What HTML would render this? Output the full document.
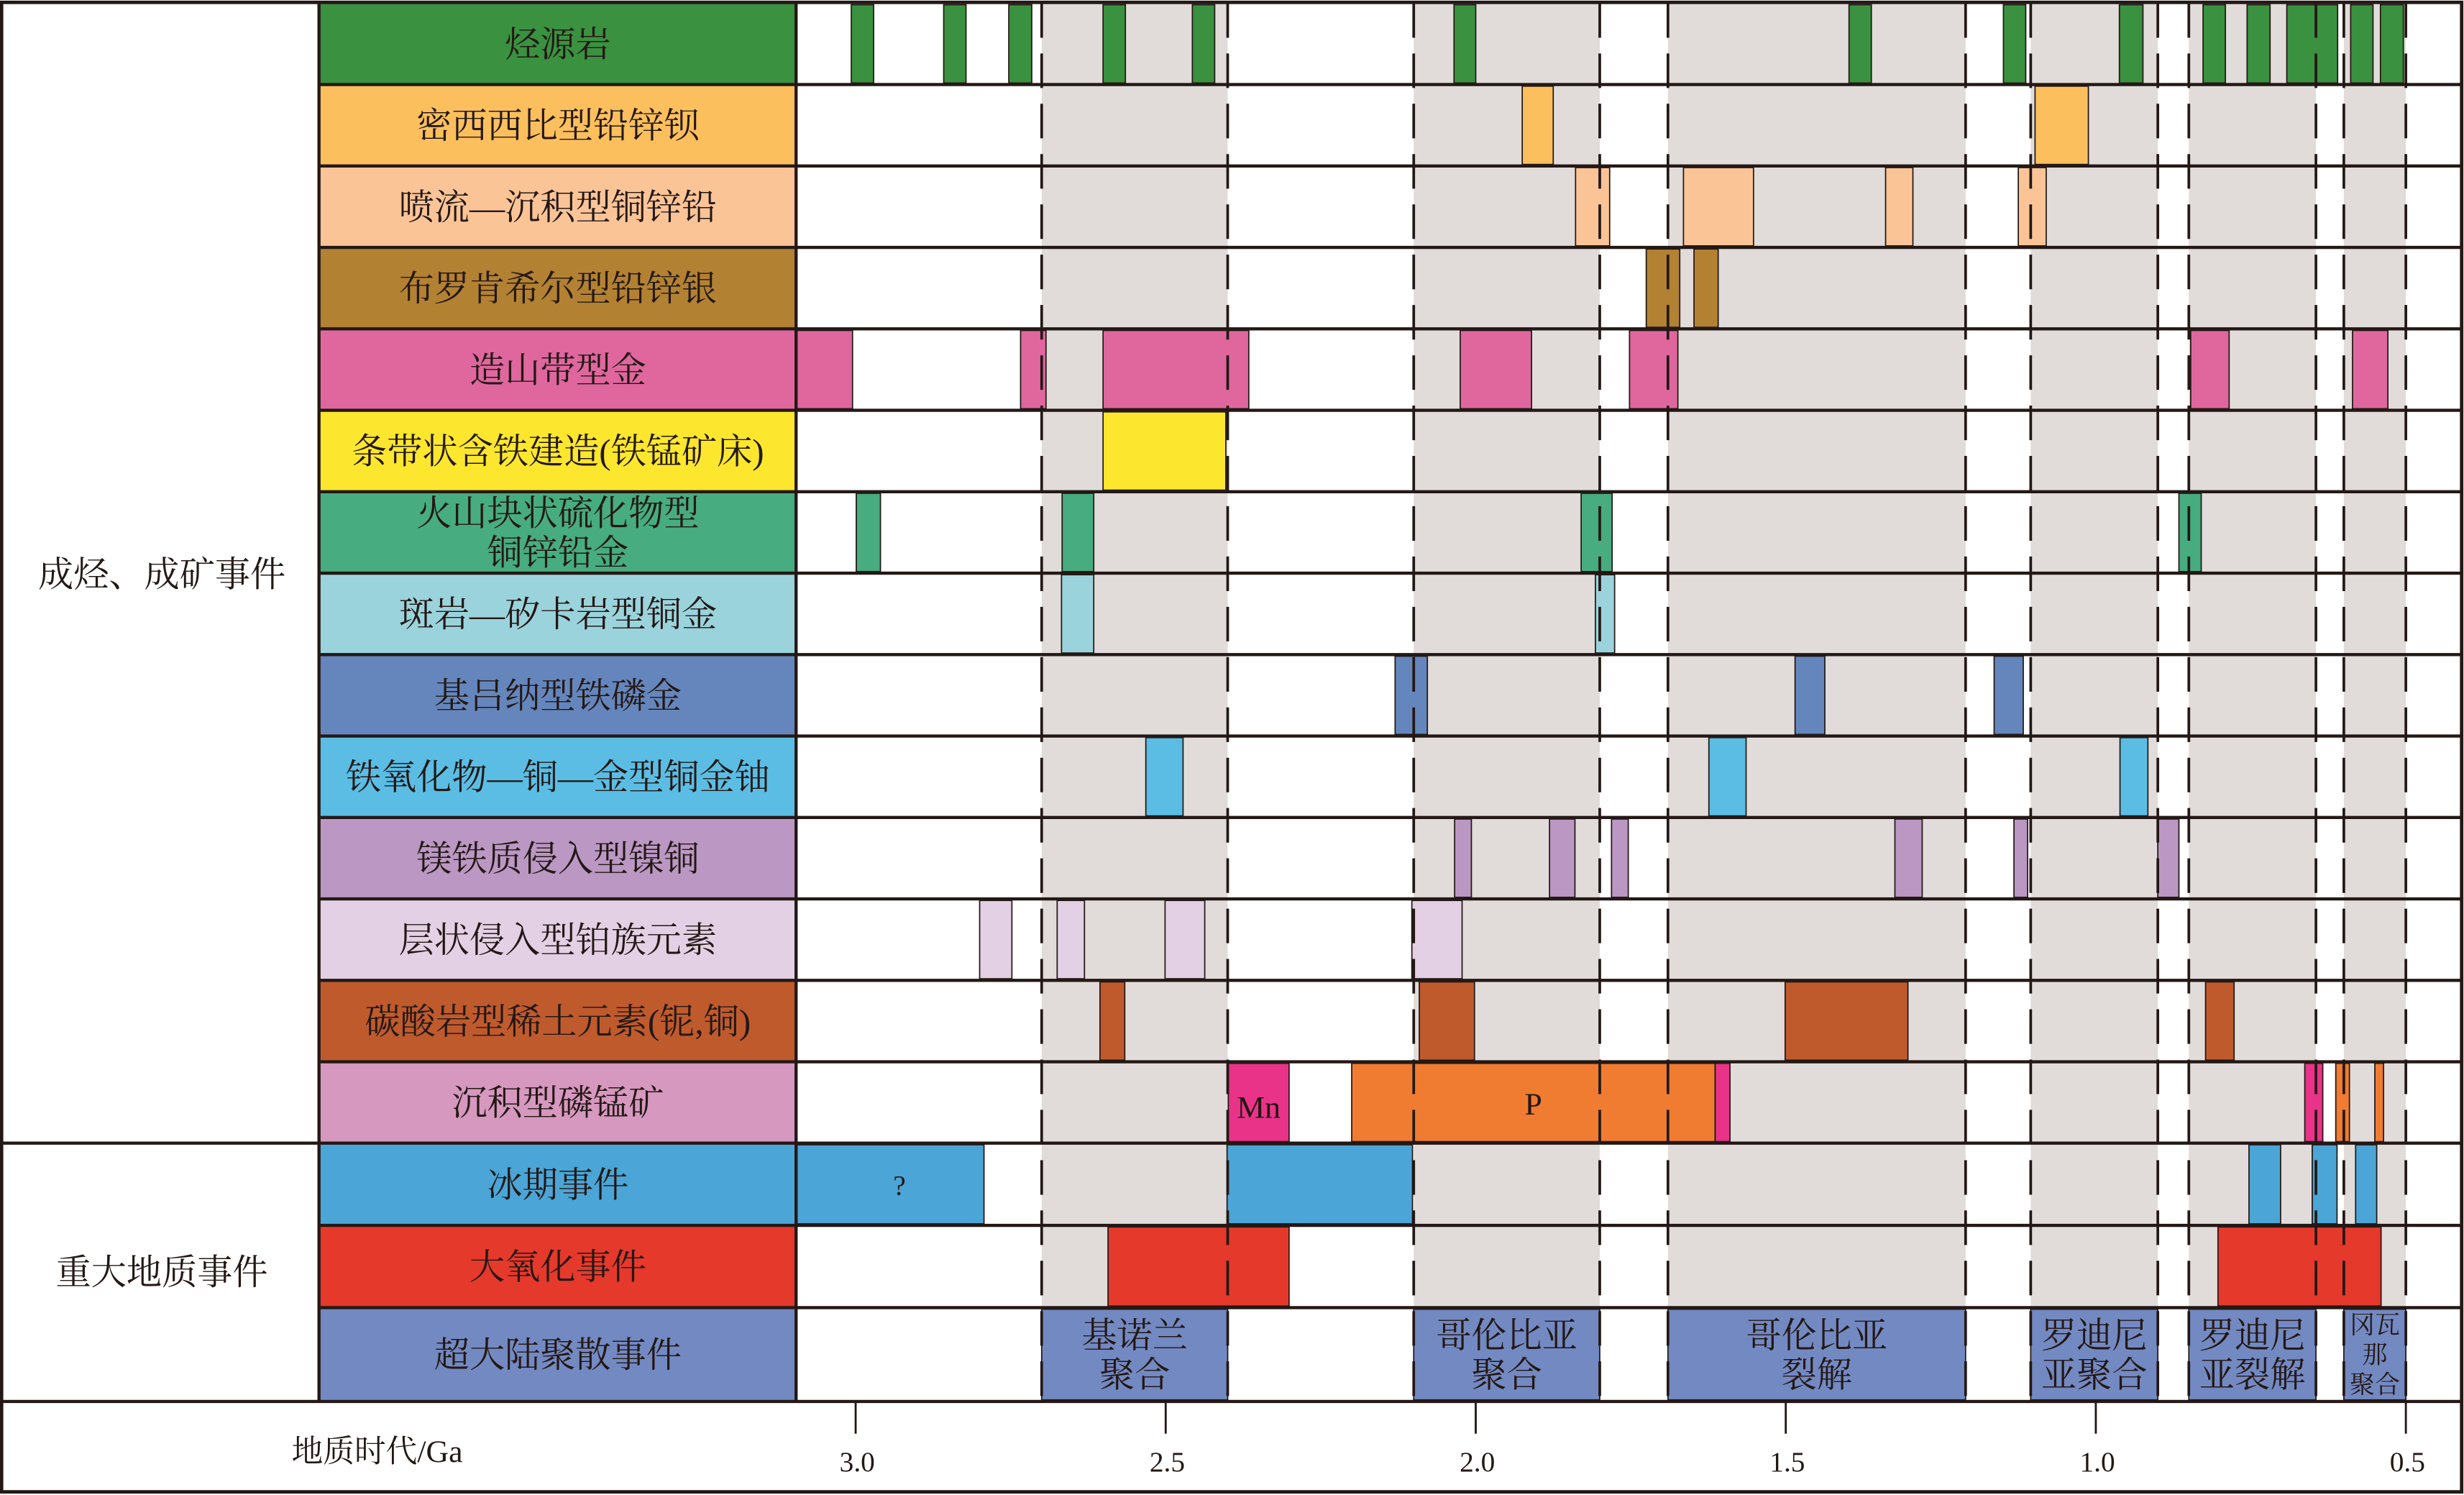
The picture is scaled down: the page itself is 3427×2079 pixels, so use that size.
<!DOCTYPE html>
<html><head><meta charset="utf-8">
<style>
html,body{margin:0;padding:0;background:#fff;}
svg{display:block;}
text{font-family:"Liberation Serif","Noto Serif CJK SC",serif;fill:#231815;}
</style></head>
<body>
<svg id="chart" width="3427" height="2079" viewBox="0 0 1568 951" preserveAspectRatio="none" xmlns="http://www.w3.org/2000/svg">
<rect x="0" y="0" width="1568" height="951" fill="#fff"/>
<g id="bands"></g>
<g id="labels"></g>
<g id="bars"></g>
<g id="dashes"></g>
<g id="frame"></g>
<g id="axis"></g>
</svg>
<script>
// ---- data (ages in Ga) ----
const rowLabels = [["烃源岩"],["密西西比型铅锌钡"],["喷流—沉积型铜锌铅"],["布罗肯希尔型铅锌银"],["造山带型金"],["条带状含铁建造(铁锰矿床)"],["火山块状硫化物型","铜锌铅金"],["斑岩—矽卡岩型铜金"],["基吕纳型铁磷金"],["铁氧化物—铜—金型铜金铀"],["镁铁质侵入型镍铜"],["层状侵入型铂族元素"],["碳酸岩型稀土元素(铌,铜)"],["沉积型磷锰矿"],["冰期事件"],["大氧化事件"],["超大陆聚散事件"]];
const rowColors = ["#3a913f","#fcbf5e","#fbc497","#b38132","#df679e","#fce72e","#47ac7f","#9bd3dc","#6486bc","#5bbde4","#bb97c3","#e3d0e5","#bf5a2d","#d698bf","#4ba5d6","#e5392b","#7389c2"];
const grayPeriods = [[2.70,2.40],[2.10,1.80],[1.69,1.21],[1.105,0.90],[0.85,0.645],[0.60,0.50]];
const dashAges = [2.70,2.40,2.10,1.80,1.69,1.21,1.105,0.90,0.85,0.645,0.60,0.50];
const hydrocarbonSpans = [[3.007,2.971],[2.858,2.822],[2.753,2.716],[2.601,2.565],[2.457,2.421],[2.035,2.000],[1.398,1.362],[1.149,1.113],[0.962,0.924],[0.827,0.791],[0.756,0.719],[0.692,0.610],[0.589,0.553],[0.541,0.504]];
const mvtSpans = [[1.925,1.875],[1.098,1.012]];
const sedexSpans = [[1.839,1.784],[1.665,1.552],[1.339,1.295],[1.125,1.080]];
const brokenHillSpans = [[1.725,1.671],[1.648,1.609]];
const orogenicGoldSpans = [[3.10,3.005],[2.734,2.693],[2.601,2.366],[2.025,1.910],[1.752,1.674],[0.847,0.785],[0.586,0.529]];
const bifSpans = [[2.601,2.403]];
const vmsSpans = [[2.999,2.960],[2.667,2.616],[1.830,1.780],[0.866,0.830]];
const porphyrySpans = [[2.668,2.616],[1.807,1.776]];
const kirunaSpans = [[2.130,2.078],[1.485,1.437],[1.164,1.117]];
const iocgSpans = [[2.532,2.472],[1.624,1.564],[0.961,0.916]];
const maficSpans = [[2.034,2.007],[1.881,1.840],[1.781,1.754],[1.324,1.280],[1.132,1.110],[0.900,0.866]];
const pgeSpans = [[2.800,2.748],[2.675,2.631],[2.501,2.437],[2.103,2.022]];
const carbonatiteSpans = [[2.606,2.566],[2.091,2.002],[1.501,1.303],[0.823,0.777]];
const mnSpans = [[2.399,2.301],[1.614,1.590],[0.663,0.634]];
const pSpans = [[2.200,1.614],[0.613,0.591],[0.550,0.536]];
const glacialSpans = [[3.10,2.793],[2.401,2.102],[0.753,0.702],[0.651,0.611],[0.581,0.547]];
const goeSpans = [[2.593,2.301],[0.803,0.540]];
const supercontinentSpans = [[2.70,2.40],[2.10,1.80],[1.69,1.21],[1.105,0.90],[0.85,0.645],[0.60,0.50]];
const supercontinentNames = [["基诺兰","聚合"],["哥伦比亚","聚合"],["哥伦比亚","裂解"],["罗迪尼","亚聚合"],["罗迪尼","亚裂解"],["冈瓦","那","聚合"]];
const tickAges = [3.0,2.5,2.0,1.5,1.0,0.5];
const tickLabels = ["3.0","2.5","2.0","1.5","1.0","0.5"];

// ---- layout ----
const NS = "http://www.w3.org/2000/svg";
const X0 = 544.5, PX_PER_GA = 394.6, CHART_L = 506.6, CHART_R = 1566;
function x(t){ return X0 + (3 - t) * PX_PER_GA; }
const rowTops = []; for (let i=0;i<14;i++) rowTops.push(2 + i*51.8);
rowTops.push(727.2, 779.5, 831.8);
const rowBottoms = rowTops.slice(1).concat([891.5]);
function el(tag, attrs, parent){ const e=document.createElementNS(NS,tag); for(const k in attrs) e.setAttribute(k,attrs[k]); parent.appendChild(e); return e; }
const gBands=document.getElementById('bands'), gLabels=document.getElementById('labels'), gBars=document.getElementById('bars'), gDash=document.getElementById('dashes'), gFrame=document.getElementById('frame'), gAxis=document.getElementById('axis');

// gray period bands (rows 0-15)
grayPeriods.forEach(p=>{
  const r = el('rect',{x:x(p[0]),y:2,width:x(p[1])-x(p[0]),height:831.8-2,fill:'#e1dcd9'},gBands);
  
  
});

// row labels
rowLabels.forEach((lines,i)=>{
  const top=rowTops[i], bot=rowBottoms[i];
  const r = el('rect',{x:203,y:top,width:CHART_L-203,height:bot-top,fill:rowColors[i]},gLabels);
  
  
  const cy=(top+bot)/2;
  lines.forEach((ln,j)=>{
    const ty = cy + 8 + (j - (lines.length-1)/2)*25;
    const t = el('text',{x:355,y:ty,'font-size':22.5,'text-anchor':'middle'},gLabels);
    t.textContent = ln;
    
    
  });
});

// bars
const rowSpans = [hydrocarbonSpans,mvtSpans,sedexSpans,brokenHillSpans,orogenicGoldSpans,bifSpans,vmsSpans,porphyrySpans,kirunaSpans,iocgSpans,maficSpans,pgeSpans,carbonatiteSpans,null,glacialSpans,goeSpans];
function drawBar(t0,t1,row,color,name){
  const x0=Math.max(x(t0),CHART_L), x1=x(t1);
  const r = el('rect',{x:x0,y:rowTops[row]+1,width:x1-x0,height:rowBottoms[row]-rowTops[row]-2,fill:color,stroke:'#231815','stroke-width':0.8},gBars);
  
  
  return [x0,x1];
}
rowSpans.forEach((spans,i)=>{
  if(!spans) return;
  spans.forEach(s=>drawBar(s[0],s[1],i,rowColors[i],'event-bar'));
});
mnSpans.forEach((s,k)=>{
  const xs=drawBar(s[0],s[1],13,'#e93388','mn-bar');
  if(k===0){ const t=el('text',{x:(xs[0]+xs[1])/2,y:711,'font-size':20,'text-anchor':'middle'},gBars); t.textContent='Mn';
    
     }
});
pSpans.forEach((s,k)=>{
  const xs=drawBar(s[0],s[1],13,'#ef7c31','p-bar');
  if(k===0){ const t=el('text',{x:(xs[0]+xs[1])/2,y:709,'font-size':20,'text-anchor':'middle'},gBars); t.textContent='P';
    
     }
});
{ const xs=[CHART_L,x(glacialSpans[0][1])]; const q=el('text',{x:(xs[0]+xs[1])/2+6,y:760,'font-size':18,'text-anchor':'middle'},gBars); q.textContent='?';
  
   }
supercontinentSpans.forEach((s,k)=>{
  const xs=drawBar(s[0],s[1],16,rowColors[16],'supercontinent-box');
  const lines=supercontinentNames[k];
  const fs = lines.length>2?16:22.5, lh = lines.length>2?19:25;
  lines.forEach((ln,j)=>{
    const ty = 861.6 + fs*0.36 + (j-(lines.length-1)/2)*lh;
    const t=el('text',{x:(xs[0]+xs[1])/2,y:ty,'font-size':fs,'text-anchor':'middle'},gBars);
    t.textContent=ln;
    
    
  });
});

// dashed period boundaries
dashAges.forEach(a=>{
  const l=el('line',{x1:x(a),x2:x(a),y1:2,y2:891.5,stroke:'#231815','stroke-width':1.7,'stroke-dasharray':'22 10'},gDash);
  
  
});

// frame / grid
for(let i=1;i<rowTops.length;i++){
  const l=el('line',{x1:(i===14?0:203),x2:CHART_R,y1:rowTops[i],y2:rowTops[i],stroke:'#231815','stroke-width':2},gFrame);
  
  
}
[[0,891.5,1566,891.5],[203,2,203,891.5],[CHART_L,2,CHART_L,891.5]].forEach(c=>{
  const l=el('line',{x1:c[0],y1:c[1],x2:c[2],y2:c[3],stroke:'#231815','stroke-width':2},gFrame);
  
  
});
{ const b=el('rect',{x:1,y:1.5,width:1565.5,height:947.5,fill:'none',stroke:'#231815','stroke-width':2.2},gFrame);
  
   }
[["成烃、成矿事件",365],["重大地质事件",809]].forEach(g=>{
  const t=el('text',{x:103,y:g[1]+8,'font-size':22.5,'text-anchor':'middle'},gFrame);
  t.textContent=g[0];
  
  
});

// axis
tickAges.forEach((a,i)=>{
  const l=el('line',{x1:x(a),x2:x(a),y1:891.5,y2:912,stroke:'#231815','stroke-width':1.3},gAxis);
  
  
  const t=el('text',{x:x(a)+1,y:936,'font-size':18,'text-anchor':'middle'},gAxis);
  t.textContent=tickLabels[i];
  
  
});
{ const t=el('text',{x:240,y:930,'font-size':20,'text-anchor':'middle'},gAxis); t.textContent='地质时代/Ga';
  
   }
</script>
</body></html>
